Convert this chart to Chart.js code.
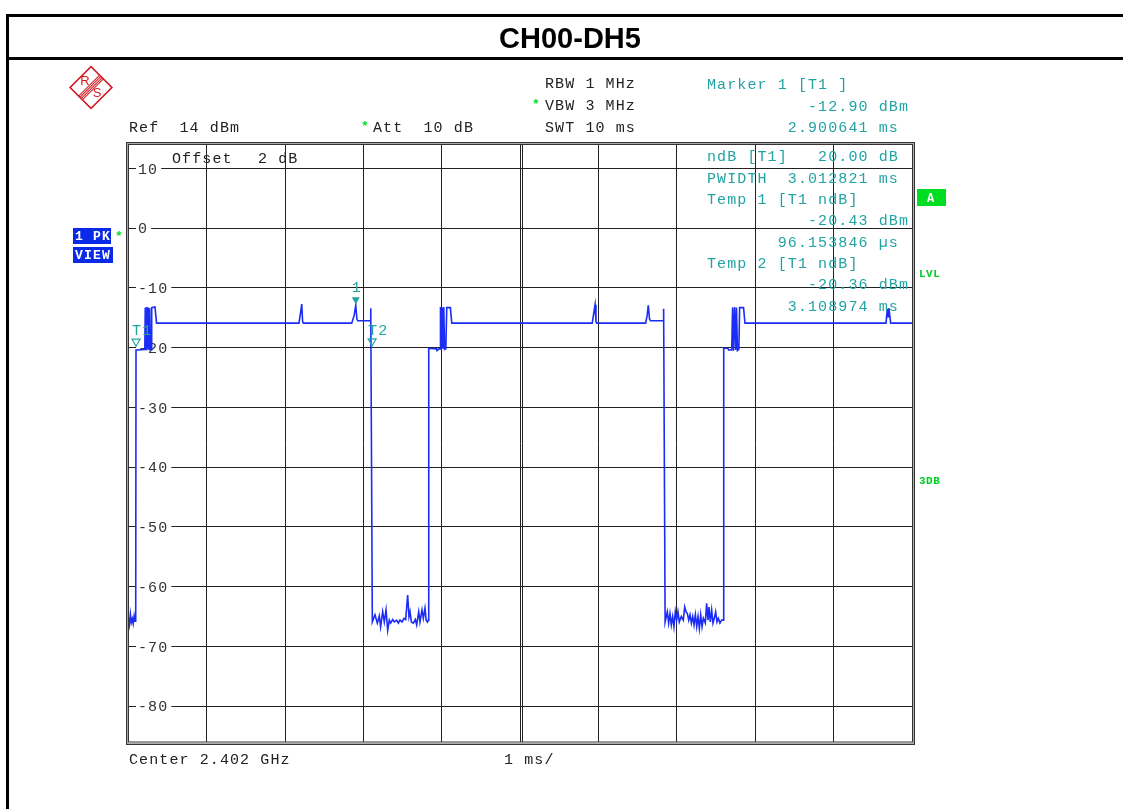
<!DOCTYPE html>
<html lang="en">
<head>
  <meta charset="UTF-8">
  <title>CH00-DH5</title>
  <script src="https://cdn.jsdelivr.net/npm/chart.js"></script>
  <style>
    * { box-sizing: border-box; margin: 0; padding: 0; }
    body { background: #fff; width: 1123px; height: 809px; overflow: hidden; }
    canvas { display: block; }
  </style>
</head>
<body>
<canvas id="sweep" width="1123" height="809"></canvas>

<script>
  // sweep trace, time in ms (10 ms span) and level in dBm
  const sweepMs = [
    0.000, 0.012, 0.024, 0.036, 0.048, 0.060, 0.072, 0.084, 0.092,
    0.096, 0.208, 0.214, 0.224, 0.234, 0.244, 0.254, 0.262, 0.270, 0.280, 0.290, 0.296, 0.338, 0.358,
    2.176, 2.200, 2.211, 2.222, 2.231,
    2.849, 2.880, 2.9006, 2.915, 2.925, 3.085, 3.092,
    3.112, 3.146, 3.176, 3.201, 3.218, 3.244, 3.265, 3.287, 3.308, 3.329, 3.346, 3.372, 3.393, 3.423, 3.444, 3.465, 3.491,
    3.516, 3.538, 3.563, 3.580, 3.593, 3.610, 3.635, 3.661, 3.678, 3.704, 3.720, 3.746, 3.763, 3.784, 3.799, 3.816, 3.827,
    3.832, 3.930, 3.938, 3.950, 3.962, 3.976, 3.982, 3.992, 4.002, 4.012, 4.024, 4.034, 4.050, 4.062, 4.108, 4.126,
    5.919, 5.943, 5.955, 5.966, 5.975,
    6.600, 6.620, 6.634, 6.650, 6.662, 6.822, 6.830,
    6.849, 6.877, 6.894, 6.911, 6.928, 6.945, 6.962, 6.979, 6.996, 7.013, 7.030, 7.056, 7.081, 7.099, 7.116, 7.133, 7.150,
    7.167, 7.184, 7.201, 7.218, 7.235, 7.252, 7.269, 7.286, 7.303, 7.320, 7.337, 7.362, 7.379, 7.396, 7.409, 7.426, 7.443,
    7.460, 7.477, 7.494, 7.511, 7.528, 7.549, 7.571, 7.592,
    7.597, 7.650, 7.660, 7.699, 7.710, 7.722, 7.735, 7.750, 7.760, 7.772, 7.790, 7.800, 7.850, 7.868,
    9.668, 9.685, 9.695, 9.705, 9.728, 10.000
  ];
  const sweepDbm = [
    -65.2, -66.3, -64.6, -66.0, -65.4, -66.2, -64.9, -65.8, -65.0,
    -20.4, -20.3, -13.3, -20.3, -13.2, -20.2, -13.3, -20.3, -13.4, -20.2, -20.3, -13.3, -13.2, -15.9,
    -15.9, -13.8, -12.7, -15.6, -15.9,
    -15.9, -14.6, -12.9, -15.2, -15.5, -15.5, -13.4,
    -65.9, -64.7, -66.1, -64.9, -66.7, -64.2, -65.9, -63.9, -67.3, -65.6, -66.1, -65.5, -65.9, -65.6, -66.1, -65.6, -65.9,
    -65.3, -65.5, -61.4, -65.0, -64.2, -65.9, -66.1, -65.5, -66.4, -64.2, -65.9, -63.9, -65.3, -63.6, -65.6, -65.9, -65.6,
    -20.1, -20.2, -20.5, -20.5, -20.2, -20.2, -13.2, -20.3, -13.3, -20.2, -13.2, -20.3, -20.2, -13.3, -13.3, -15.9,
    -15.9, -13.8, -12.8, -15.6, -15.9,
    -15.9, -14.6, -12.9, -15.2, -15.5, -15.5, -13.5,
    -65.9, -64.2, -66.1, -64.5, -66.4, -65.0, -66.7, -64.2, -65.6, -64.2, -65.9, -65.0, -65.6, -63.4, -64.2, -64.5, -65.6,
    -64.7, -66.1, -65.0, -66.4, -64.7, -66.7, -65.0, -67.0, -64.7, -66.7, -65.3, -66.1, -62.8, -65.6, -63.4, -65.9, -63.9,
    -66.1, -65.3, -64.2, -65.9, -65.3, -66.1, -65.6, -65.6,
    -20.1, -20.1, -20.4, -20.4, -13.3, -20.5, -13.2, -20.4, -13.3, -20.5, -20.3, -13.3, -13.3, -15.9,
    -15.9, -13.5, -14.8, -13.4, -15.9, -15.9
  ];

  const xGridMs = [0, 1, 2, 3, 4, 5, 6, 7, 8, 9, 10];
  const yTickDbm = [10, 0, -10, -20, -30, -40, -50, -60, -70, -80];

  // markers: M1, T1, T2
  const markerNames = ['1', 'T1', 'T2'];
  const markerMs = [2.900641, 0.096154, 3.108974];
  const markerDbm = [-12.90, -20.43, -20.36];

  const MONO = '"Liberation Mono", "DejaVu Sans Mono", monospace';
  const TEAL = '#22a3a3';
  const INK = '#222';
  const GREEN = '#00dd22';

  function mono(ctx, str, x, yMid, color, size, weight, spacing) {
    size = size || 15;
    ctx.font = (weight || '') + ' ' + size + 'px ' + MONO;
    ctx.letterSpacing = (spacing === undefined ? 1.1 : spacing) + 'px';
    ctx.fillStyle = color;
    ctx.textAlign = 'left';
    ctx.textBaseline = 'alphabetic';
    ctx.fillText(str, x, yMid + size * 0.34);
  }

  function drawLogo(ctx, cx, cy) {
    ctx.save();
    ctx.strokeStyle = '#d41a22';
    ctx.translate(cx, cy);
    ctx.rotate(Math.PI / 4);
    ctx.lineWidth = 1.6;
    ctx.strokeRect(-14.8, -14.8, 29.6, 29.6);
    ctx.lineWidth = 1;
    [-2.6, -0.9, 0.9, 2.6].forEach(s => {
      ctx.beginPath();
      ctx.moveTo(s, -14.8);
      ctx.lineTo(s, 14.8);
      ctx.stroke();
    });
    ctx.restore();
    ctx.save();
    ctx.fillStyle = '#d41a22';
    ctx.font = '13px "Liberation Sans", Arial, sans-serif';
    ctx.textAlign = 'center';
    ctx.textBaseline = 'middle';
    ctx.fillText('R', cx - 6, cy - 6);
    ctx.fillText('S', cx + 6, cy + 6);
    ctx.restore();
  }

  const analyzerPlugin = {
    id: 'analyzer',
    beforeDraw(chart) {
      const ctx = chart.ctx;
      ctx.save();
      ctx.fillStyle = '#fff';
      ctx.fillRect(0, 0, chart.width, chart.height);
      // page frame and title bar
      ctx.fillStyle = '#000';
      ctx.fillRect(6, 14, 1117, 3);
      ctx.fillRect(6, 14, 3, 795);
      ctx.fillRect(6, 57, 1117, 3);
      ctx.font = 'bold 29px "Liberation Sans", Arial, sans-serif';
      ctx.textAlign = 'center';
      ctx.textBaseline = 'middle';
      ctx.fillText('CH00-DH5', 570, 40);
      ctx.restore();
      drawLogo(ctx, 91, 87.5);
    },
    beforeDatasetsDraw(chart) {
      const ctx = chart.ctx;
      const xs = chart.scales.x, ys = chart.scales.y;
      ctx.save();
      // doubled centre line
      const xc = Math.round(xs.getPixelForValue(5)) + 2.5;
      ctx.strokeStyle = INK;
      ctx.lineWidth = 1;
      ctx.beginPath();
      ctx.moveTo(xc, chart.chartArea.top);
      ctx.lineTo(xc, chart.chartArea.bottom);
      ctx.stroke();
      // level labels sit inside the grid, with a gap in the line
      yTickDbm.forEach(v => {
        const y = ys.getPixelForValue(v);
        const label = String(v);
        ctx.font = '15px ' + MONO;
        ctx.letterSpacing = '1.1px';
        const w = ctx.measureText(label).width;
        ctx.fillStyle = '#fff';
        ctx.fillRect(136, y - 2, w + 5, 4);
        mono(ctx, label, 138, y, '#333');
      });
      ctx.restore();
    },
    afterDatasetsDraw(chart) {
      const ctx = chart.ctx;
      const xs = chart.scales.x, ys = chart.scales.y;
      ctx.save();

      // plot frame (double line)
      ctx.lineWidth = 1;
      ctx.strokeStyle = '#333';
      ctx.strokeRect(126.5, 142.5, 788, 602);
      ctx.strokeStyle = '#aaa';
      ctx.strokeRect(127.5, 143.5, 786, 600);
      ctx.strokeStyle = '#333';
      ctx.strokeRect(128.5, 144.5, 784, 597.5);

      // settings header
      mono(ctx, 'RBW 1 MHz', 545, 83, INK);
      mono(ctx, 'VBW 3 MHz', 545, 105, INK);
      mono(ctx, 'SWT 10 ms', 545, 127, INK);
      mono(ctx, 'Ref  14 dBm', 129, 127, INK);
      mono(ctx, 'Att  10 dB', 373, 127, INK);
      mono(ctx, '*', 532, 104, GREEN, 13, 'bold', 0);
      mono(ctx, '*', 361, 126, GREEN, 13, 'bold', 0);
      mono(ctx, '*', 115, 236, GREEN, 13, 'bold', 0);
      mono(ctx, 'Offset', 172, 158, INK);
      mono(ctx, '2 dB', 258, 158, INK);
      mono(ctx, 'Center 2.402 GHz', 129, 759, INK);
      mono(ctx, '1 ms/', 504, 759, INK);

      // marker readout, monospaced columns
      const col = c => 707 + c * 10.1;
      const readout = [
        ['Marker 1 [T1 ]', 0, 84],
        ['-12.90 dBm', 10, 106],
        ['2.900641 ms', 8, 127],
        ['ndB [T1]   20.00 dB', 0, 156],
        ['PWIDTH  3.012821 ms', 0, 178],
        ['Temp 1 [T1 ndB]', 0, 199],
        ['-20.43 dBm', 10, 220],
        ['96.153846 \u00b5s', 7, 242],
        ['Temp 2 [T1 ndB]', 0, 263],
        ['-20.36 dBm', 10, 284],
        ['3.108974 ms', 8, 306]
      ];
      readout.forEach(r => mono(ctx, r[0], col(r[1]), r[2], TEAL));

      // markers on the trace
      markerNames.forEach((name, i) => {
        const px = xs.getPixelForValue(markerMs[i]);
        const py = ys.getPixelForValue(markerDbm[i]);
        const tip = name === '1' ? py - 1 : py - 4;
        ctx.beginPath();
        ctx.moveTo(px - 4, tip - 7);
        ctx.lineTo(px + 4, tip - 7);
        ctx.lineTo(px, tip);
        ctx.closePath();
        ctx.lineWidth = 1.2;
        ctx.strokeStyle = TEAL;
        ctx.fillStyle = TEAL;
        if (name === '1') {
          ctx.fill();
          mono(ctx, name, px - 4, tip - 17, TEAL);
        } else {
          ctx.stroke();
          mono(ctx, name, px - 4, tip - 16, TEAL);
        }
      });

      // trace / mode badges
      ctx.fillStyle = '#0a2ae8';
      ctx.fillRect(73, 228, 38, 16);
      ctx.fillRect(73, 247, 40, 16);
      mono(ctx, '1 PK', 75, 236, '#fff', 13, 'bold', 1.2);
      mono(ctx, 'VIEW', 75, 255, '#fff', 13, 'bold', 1.2);

      ctx.fillStyle = GREEN;
      ctx.fillRect(917, 189, 29, 17);
      mono(ctx, 'A', 927, 197.5, '#fff', 12, 'bold', 0);
      mono(ctx, 'LVL', 919, 273, '#00cc22', 11, 'bold', 0.5);
      mono(ctx, '3DB', 919, 480, '#00cc22', 11, 'bold', 0.5);

      ctx.restore();
    }
  };

  const ctx = document.getElementById('sweep').getContext('2d');
  const gridStyle = { color: INK, lineWidth: 1, drawTicks: false };

  new Chart(ctx, {
    type: 'line',
    data: {
      datasets: [{
        data: sweepMs.map((t, i) => ({ x: t, y: sweepDbm[i] })),
        borderColor: '#1a2cf5',
        borderWidth: 1.6,
        pointRadius: 0,
        tension: 0,
        fill: false
      }]
    },
    options: {
      responsive: false,
      animation: false,
      layout: { padding: { left: 128.5, top: 144.5, right: 211, bottom: 67 } },
      plugins: { legend: { display: false }, tooltip: { enabled: false } },
      scales: {
        x: {
          type: 'linear', min: 0, max: 10,
          afterBuildTicks: s => { s.ticks = xGridMs.map(v => ({ value: v })); },
          ticks: { display: false },
          grid: gridStyle,
          border: { display: false }
        },
        y: {
          type: 'linear', min: -86, max: 14,
          afterBuildTicks: s => { s.ticks = yTickDbm.map(v => ({ value: v })); },
          ticks: { display: false },
          grid: gridStyle,
          border: { display: false }
        }
      }
    },
    plugins: [analyzerPlugin]
  });
</script>
</body>
</html>
